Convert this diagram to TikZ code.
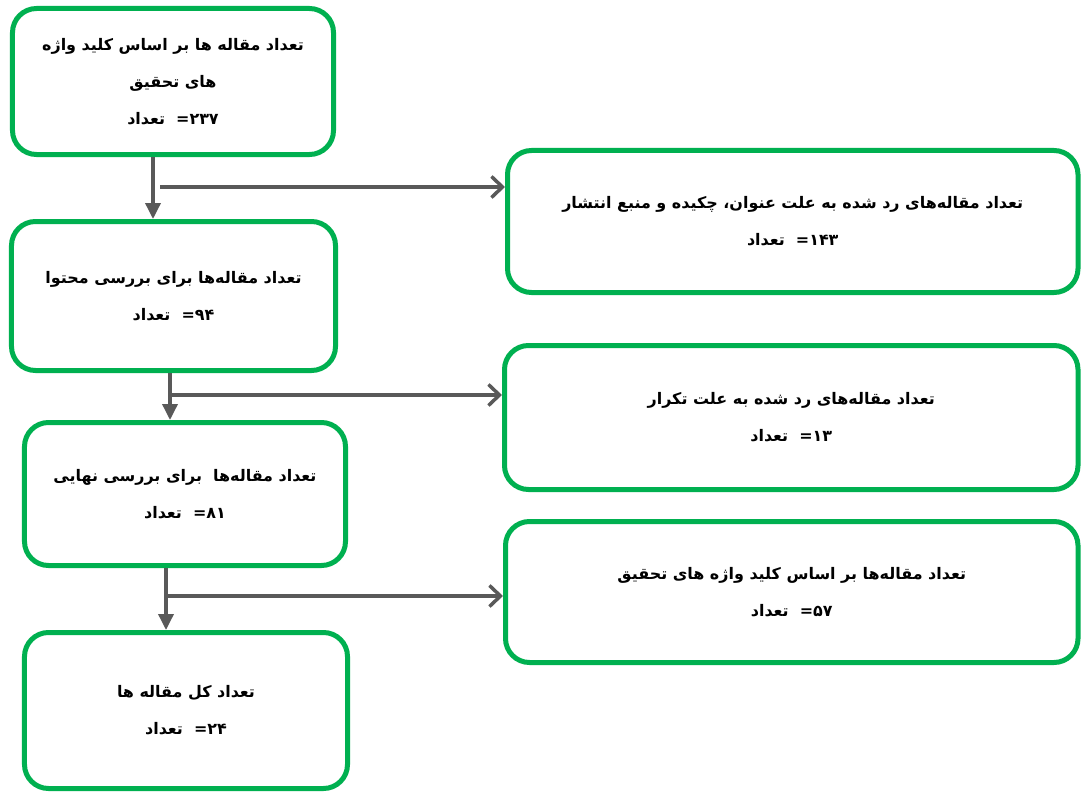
\documentclass[tikz,border=0pt]{standalone}
\usepackage{fontspec}
\newfontfamily\arabicfont[Script=Arabic]{DejaVu Sans}
\TeXXeTstate=1
\usetikzlibrary{arrows.meta,calc}
\definecolor{boxgreen}{HTML}{00B050}
\definecolor{arrowgray}{HTML}{595959}
\newcommand{\cnt}[1]{\beginR\beginL=\kern0pt #1\endL\ \ تعداد\endR}
\tikzset{
  box/.style={draw=boxgreen, line width=5bp, rounded corners=24bp, fill=white,
    align=center, inner sep=0pt,
    font=\arabicfont\bfseries\fontsize{16}{37}\selectfont},
  vline/.style={draw=arrowgray, line width=3.5bp, -{Triangle[length=16bp,width=15bp]}},
  hline/.style={draw=arrowgray, line width=3.5bp, -{Straight Barb[length=11bp,width=21bp]}},
}
\begin{document}
\begin{tikzpicture}[x=1bp,y=-1bp]
\useasboundingbox (0,0) rectangle (1081,793);
\fill[white] (0,0) rectangle (1081,793);

\node[box, minimum width=321bp, minimum height=146bp] (A) at (173,81.5)
  {\beginR تعداد مقاله ها بر اساس کلید واژه\endR\\
   \beginR های تحقیق\endR\\
   \cnt{۲۳۷}};
\node[box, minimum width=570.5bp, minimum height=142bp] (B) at (792.75,221.5)
  {\beginR تعداد مقاله‌های رد شده به علت عنوان، چکیده و منبع انتشار\endR\\
   \cnt{۱۴۳}};
\node[box, minimum width=324bp, minimum height=149bp] (C) at (173.5,296)
  {\beginR تعداد مقاله‌ها برای بررسی محتوا\endR\\
   \cnt{۹۴}};
\node[box, minimum width=573.5bp, minimum height=144bp] (D) at (791.25,417.5)
  {\beginR تعداد مقاله‌های رد شده به علت تکرار\endR\\
   \cnt{۱۳}};
\node[box, minimum width=321bp, minimum height=143bp] (E) at (185,494)
  {\beginR تعداد مقاله‌ها\ \ برای بررسی نهایی\endR\\
   \cnt{۸۱}};
\node[box, minimum width=572.5bp, minimum height=141bp] (F) at (791.75,592)
  {\beginR تعداد مقاله‌ها بر اساس کلید واژه های تحقیق\endR\\
   \cnt{۵۷}};
\node[box, minimum width=323bp, minimum height=156bp] (G) at (186,710.5)
  {\beginR تعداد کل مقاله ها\endR\\
   \cnt{۲۴}};

% connectors
\coordinate (a1) at ($(A.south)+(-20,0)$);
\draw[vline] (a1) -- (a1 |- C.north);
\coordinate (a2) at ($(A.south)+(-13,30)$);
\draw[hline] (a2) -- (a2 -| B.west);

\coordinate (c1) at ($(C.south)+(-3.5,0)$);
\draw[vline] (c1) -- (c1 |- E.north);
\coordinate (c2) at ($(C.south)+(-3.5,22)$);
\draw[hline] (c2) -- (c2 -| D.west);

\coordinate (e1) at ($(E.south)+(-19,0)$);
\draw[vline] (e1) -- (e1 |- G.north);
\coordinate (e2) at ($(E.south)+(-19,28)$);
\draw[hline] (e2) -- (e2 -| F.west);
\end{tikzpicture}
\end{document}
